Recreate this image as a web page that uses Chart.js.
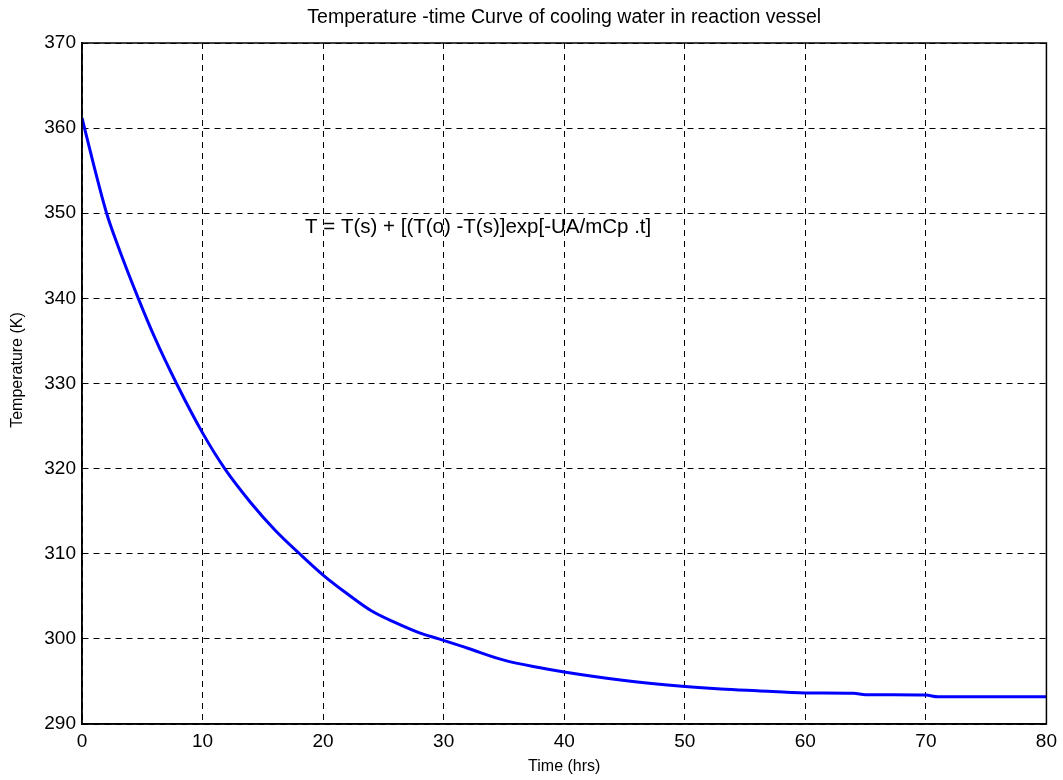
<!DOCTYPE html>
<html>
<head>
<meta charset="utf-8">
<script src="https://cdn.jsdelivr.net/npm/chart.js@4"></script>
<style>
  html, body { margin: 0; padding: 0; background: #fff; }
  #wrap { width: 1063px; height: 780px; }
</style>
</head>
<body>
<div id="wrap"><canvas id="coolChart" width="1063" height="780"></canvas></div>
<script>
// Datos
const timeHrs = [0, 1, 2.04, 3, 4.67, 6, 7.84, 10, 11.84, 14, 16, 18.05, 20, 22, 24, 26, 28, 29.6, 32, 35, 38, 40, 45, 50, 53, 56, 60, 64, 65, 70, 71, 80];
const tempK = [361.2, 355.5, 350, 346.1, 340, 335.5, 330, 324.2, 320, 316.0, 312.8, 310, 307.5, 305.3, 303.3, 301.9, 300.7, 300, 298.9, 297.5, 296.6, 296.1, 295.1, 294.4, 294.1, 293.9, 293.65, 293.6, 293.45, 293.4, 293.2, 293.2];
const xTicks = [0, 10, 20, 30, 40, 50, 60, 70, 80];
const yTicks = [290, 300, 310, 320, 330, 340, 350, 360, 370];

const chartTitle = 'Temperature -time Curve of cooling water in reaction vessel';
const xLabel = 'Time (hrs)';
const yLabel = 'Temperature (K)';
const formula = 'T = T(s) + [(T(o) -T(s)]exp[-UA/mCp .t]';
const formulaAt = { x: 18.5, y: 348.3 };

const FONT = 'Liberation Sans, Arial, sans-serif';

const points = timeHrs.map((t, i) => ({ x: t, y: tempK[i] }));

// Marco y textos extra (caja estilo MATLAB, titulo, ecuacion, etiqueta Y)
const boxPlugin = {
    id: 'boxPlugin',
    afterDraw(chart) {
        const { ctx, chartArea: a, scales } = chart;
        ctx.save();
        ctx.strokeStyle = '#000';
        ctx.lineWidth = 1.5;
        ctx.setLineDash([]);
        ctx.strokeRect(a.left, a.top, a.right - a.left, a.bottom - a.top);

        // titulo
        ctx.fillStyle = '#000';
        ctx.font = '19.5px ' + FONT;
        ctx.textAlign = 'center';
        ctx.textBaseline = 'middle';
        ctx.fillText(chartTitle, (a.left + a.right) / 2, 18);

        // etiqueta eje Y
        ctx.save();
        ctx.translate(18, 370);
        ctx.rotate(-Math.PI / 2);
        ctx.font = '16px ' + FONT;
        ctx.fillText(yLabel, 0, 0);
        ctx.restore();

        // ecuacion
        ctx.font = '20.5px ' + FONT;
        ctx.textAlign = 'left';
        ctx.fillText(formula, scales.x.getPixelForValue(formulaAt.x), scales.y.getPixelForValue(formulaAt.y));
        ctx.restore();
    }
};

const ctx = document.getElementById('coolChart').getContext('2d');

const coolChart = new Chart(ctx, {
    type: 'line',
    data: {
        datasets: [{
            label: 'T',
            data: points,
            borderColor: '#0000ff',
            borderWidth: 3,
            pointRadius: 0,
            fill: false,
            cubicInterpolationMode: 'monotone'
        }]
    },
    options: {
        responsive: false,
        animation: false,
        layout: { padding: { top: 43, right: 15, bottom: 0, left: 0 } },
        plugins: {
            legend: { display: false },
            tooltip: { enabled: false },
            title: { display: false }
        },
        scales: {
            x: {
                type: 'linear',
                min: 0,
                max: 80,
                afterBuildTicks: (scale) => { scale.ticks = xTicks.map(v => ({ value: v })); },
                afterFit: (scale) => { scale.height = 56; },
                grid: { color: '#000', lineWidth: 1, drawTicks: false, borderDash: [6, 5] },
                border: { display: true, color: '#000', width: 1.5, dash: [6, 5] },
                ticks: { color: '#000', font: { family: FONT, size: 19 }, padding: 6, maxRotation: 0 },
                title: { display: true, text: xLabel, color: '#000', font: { family: FONT, size: 16 }, padding: { top: 0, bottom: 4 } }
            },
            y: {
                type: 'linear',
                min: 290,
                max: 370,
                afterBuildTicks: (scale) => { scale.ticks = yTicks.map(v => ({ value: v })); },
                afterFit: (scale) => { scale.width = 82; },
                grid: { color: '#000', lineWidth: 1, drawTicks: false, borderDash: [6, 5] },
                border: { display: true, color: '#000', width: 1.5, dash: [6, 5] },
                ticks: { color: '#000', font: { family: FONT, size: 19 }, padding: 6 },
                title: { display: false }
            }
        }
    },
    plugins: [boxPlugin]
});
</script>
</body>
</html>
